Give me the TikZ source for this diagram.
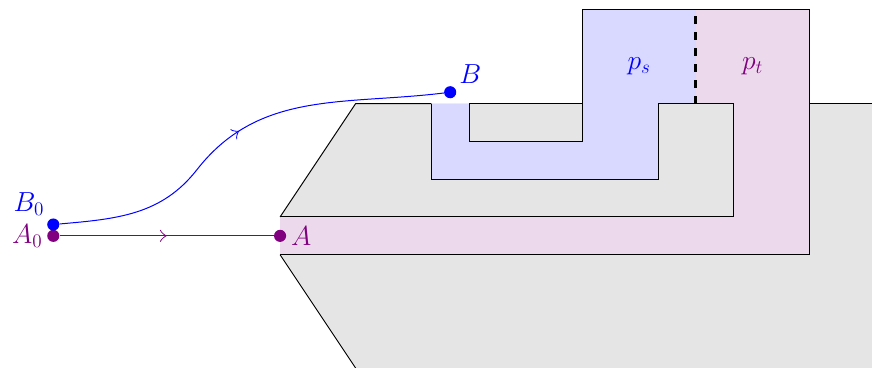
\documentclass[tikz,border=0pt]{standalone}
\usetikzlibrary{decorations.markings,arrows.meta}
\begin{document}
\begin{tikzpicture}[
  outl/.style={draw=black, line width=0.7pt},
  dot/.style={circle, inner sep=0pt, minimum size=0.32cm},
  conn/.style={line width=0.75pt},
  midarrow/.style={decoration={markings, mark=at position 0.5 with {\arrow{Classical TikZ Rightarrow[length=5pt,width=9pt]}}}, postaction={decorate}},
  every label/.style={font=\fontsize{21.5}{26}\selectfont},
  region/.style={font=\fontsize{21.5}{26}\selectfont}
]
\useasboundingbox (-7.41,-3.47) rectangle (15.66,6.24);
\begin{scope}
\clip (-7.41,-3.47) rectangle (15.66,6.24);
% gray body
\fill[gray!20] (0,0.5) -- (2,3.5) -- (16,3.5) -- (16,-4) -- (2.333,-4) -- (0,-0.5) -- cycle;
% pink region
\fill[violet!15] (0,-0.5) -- (0,0.5) -- (12,0.5) -- (12,3.5) -- (11,3.5) -- (11,6) -- (14,6) -- (14,-0.5) -- cycle;
% blue region
\fill[blue!15] (4,3.5) -- (4,1.5) -- (10,1.5) -- (10,3.5) -- (11,3.5) -- (11,6) -- (8,6) -- (8,2.5) -- (5,2.5) -- (5,3.5) -- cycle;
% outlines
\draw[outl] (0,0.5) -- (2,3.5) -- (4,3.5);
\draw[outl] (5,3.5) -- (8,3.5);
\draw[outl] (10,3.5) -- (12,3.5);
\draw[outl] (14,3.5) -- (16,3.5);
\draw[outl] (0,-0.5) -- (2.333,-4);
\draw[outl] (0,0.5) -- (12,0.5) -- (12,3.5);
\draw[outl] (11,6) -- (14,6) -- (14,-0.5) -- (0,-0.5);
\draw[outl] (5,3.5) -- (5,2.5) -- (8,2.5) -- (8,6) -- (11,6);
\draw[outl] (4,3.5) -- (4,1.5) -- (10,1.5) -- (10,3.5);
\end{scope}
% dashed separator
\draw[line width=2.4pt, dash pattern=on 5.6pt off 6.4pt] (11,3.5) -- (11,6);
% region labels
\node[region, text=blue] (ps) at (9.5,4.5) {$p_s$};
\node[region, text=violet] (pt) at (12.5,4.5) {$p_t$};
% points
\node[dot, fill=violet, label={[text=violet]left:$A_0$}] (A0) at (-6,0) {};
\node[dot, fill=violet, label={[text=violet]right:$A$}] (A) at (0,0) {};
\node[dot, fill=blue, label={[text=blue]above left:$B_0$}] (B0) at (-6,0.3) {};
\node[dot, fill=blue, label={[text=blue]above right:$B$}] (B) at (4.5,3.8) {};
\coordinate (Bm) at (-2.2,1.75);
% connectors
\draw[conn, violet, midarrow] (A0) -- (A);
\draw[conn, blue, midarrow] (B0) to[out=5,in=-128] (Bm) to[out=52,in=187] (B);
\end{tikzpicture}
\end{document}
